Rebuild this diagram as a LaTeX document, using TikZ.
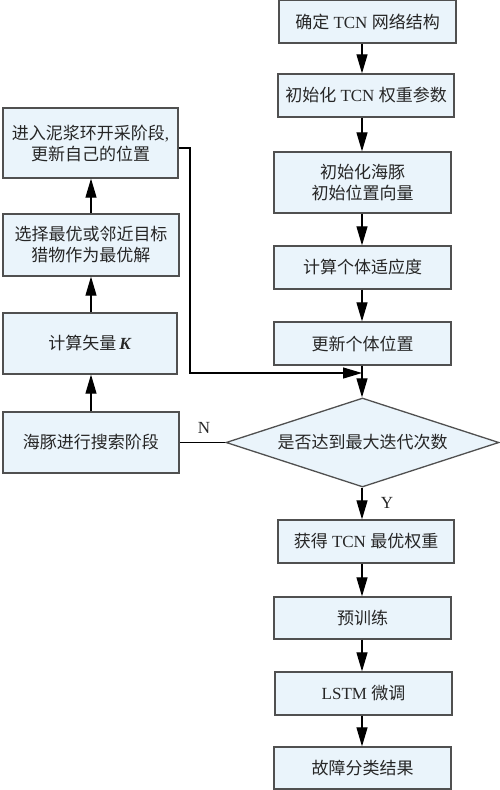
\documentclass[tikz,border=0pt]{standalone}
\usepackage{fontspec}
\setmainfont{Liberation Serif}
\newfontfamily\cjk{Noto Sans CJK SC}
\usetikzlibrary{arrows.meta,shapes.geometric}
\definecolor{boxfill}{RGB}{234,244,251}
\definecolor{boxline}{RGB}{80,80,80}
\begin{document}
\begin{tikzpicture}[x=1pt,y=-1pt,
  box/.style={draw=boxline,line width=1.3pt,fill=boxfill,inner sep=0pt,align=center,
    font=\fontsize{17}{21}\selectfont,text=black!85},
  arr/.style={line width=1.2pt,-{Triangle[length=19pt,width=11pt]}},
  ln/.style={line width=1.2pt},
  lbl/.style={font=\fontsize{17}{21}\selectfont,text=black!85,inner sep=0pt}]
\useasboundingbox (0,0) rectangle (500,790);
% right column
\node[box,minimum width=177pt,minimum height=42.5pt] (b1) at (367.5,21.75) {{\cjk 确定} TCN {\cjk 网络结构}};
\node[box,minimum width=176pt,minimum height=43pt] (b2) at (366,95.5) {{\cjk 初始化} TCN {\cjk 权重参数}};
\node[box,minimum width=177pt,minimum height=61pt] (b3) at (362.5,182.5) {\cjk 初始化海豚\\\cjk 初始位置向量};
\node[box,minimum width=177pt,minimum height=43pt] (b4) at (362.5,267.5) {\cjk 计算个体适应度};
\node[box,minimum width=177pt,minimum height=43pt] (b5) at (362.5,343.5) {\cjk 更新个体位置};
\node[box,diamond,aspect=3.07,minimum width=273pt,minimum height=89pt] (d) at (362.5,442.5) {\cjk 是否达到最大迭代次数};
\node[box,minimum width=176pt,minimum height=43pt] (b6) at (366,541.5) {{\cjk 获得} TCN {\cjk 最优权重}};
\node[box,minimum width=177pt,minimum height=42pt] (b7) at (362.5,618) {\cjk 预训练};
\node[box,minimum width=177pt,minimum height=43pt] (b8) at (363.5,693.5) {LSTM {\cjk 微调}};
\node[box,minimum width=177pt,minimum height=42pt] (b9) at (362.5,768) {\cjk 故障分类结果};
% left column
\node[box,minimum width=175pt,minimum height=70pt] (l1) at (90.5,143) {{\cjk 进入泥浆环开采阶段},\\\cjk 更新自己的位置};
\node[box,minimum width=176pt,minimum height=62pt] (l2) at (91,245) {\cjk 选择最优或邻近目标\\\cjk 猎物作为最优解};
\node[box,minimum width=174pt,minimum height=61pt] (l3) at (90,343.5) {{\cjk 计算矢量}\,\textbf{\textit{K}}};
\node[box,minimum width=176pt,minimum height=61pt] (l4) at (91,442.5) {\cjk 海豚进行搜索阶段};
% labels
\node[lbl] (n) at (204,428) {N};
\node[lbl] (y) at (387,503) {Y};
% connectors
\coordinate (X) at (362,0);
\coordinate (XL) at (91,0);
\coordinate (J) at (362,373);
\coordinate (c1) at (190,148);
\draw[arr] (b1.south -| X) -- (b2.north -| X);
\draw[arr] (b2.south -| X) -- (b3.north -| X);
\draw[arr] (b3.south -| X) -- (b4.north -| X);
\draw[arr] (b4.south -| X) -- (b5.north -| X);
\draw[arr] (b5.south -| X) -- (d.north -| X);
\draw[arr] (d.south -| X) -- (b6.north -| X);
\draw[arr] (b6.south -| X) -- (b7.north -| X);
\draw[arr] (b7.south -| X) -- (b8.north -| X);
\draw[arr] (b8.south -| X) -- (b9.north -| X);
\draw[ln] (d.west) -- (l4.east);
\draw[arr] (l4.north -| XL) -- (l3.south -| XL);
\draw[arr] (l3.north -| XL) -- (l2.south -| XL);
\draw[arr] (l2.north -| XL) -- (l1.south -| XL);
\draw[arr] (l1.east |- c1) -- (c1) |- (J);
\end{tikzpicture}
\end{document}
